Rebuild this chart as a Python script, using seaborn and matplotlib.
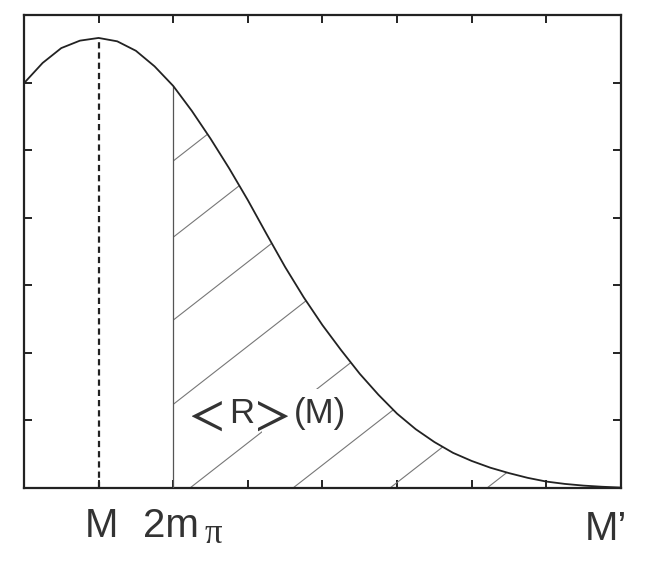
import matplotlib
matplotlib.use("Agg")
import matplotlib.pyplot as plt
from matplotlib.patches import Rectangle
from matplotlib.transforms import IdentityTransform
import numpy as np
import pandas as pd
import seaborn as sns

# ---- data ----
mass = [0.0, 0.25, 0.5, 0.75, 1.0, 1.25, 1.5, 1.75, 2.0, 2.25, 2.5, 2.75, 3.0,
        3.25, 3.5, 3.75, 4.0, 4.25, 4.5, 4.75, 5.0, 5.25, 5.5, 5.75, 6.0,
        6.25, 6.5, 6.75, 7.0, 7.25, 7.5, 7.75, 8.0]
rate = [5.99, 6.29, 6.51, 6.62, 6.66, 6.61, 6.47, 6.24, 5.95, 5.58, 5.17, 4.73,
        4.26, 3.76, 3.27, 2.82, 2.41, 2.04, 1.69, 1.38, 1.10, 0.87, 0.68, 0.52,
        0.40, 0.30, 0.22, 0.15, 0.095, 0.06, 0.035, 0.018, 0.006]
peak_mass = 1.0          # M
threshold_mass = 2.0     # 2 m_pi
x_ticks = [0, 1, 2, 3, 4, 5, 6, 7, 8]
y_ticks = [0, 1, 2, 3, 4, 5, 6, 7]
label_M = "M"
label_thr = "2m"
label_pi = "\u03c0"
label_Mp = "M\u2019"
area_label = [r"$<$", "R", r"$>$", "(M)"]

# ---- style constants ----
HATCH_X0 = [-3.62, -2.31, -0.885, 0.563, 2.225, 3.606, 4.906, 6.206]
HATCH_SLOPE = 0.861
TXT = "#333333"

sns.set_theme(style="ticks")
plt.rcParams["font.family"] = ["Liberation Sans", "DejaVu Sans"]

df = pd.DataFrame({"mass": mass, "rate": rate})

fig = plt.figure(figsize=(6.64, 5.69), dpi=100)
ax = fig.add_axes([0.0361, 0.1424, 0.899, 0.8313])

sns.lineplot(data=df, x="mass", y="rate", ax=ax, color="#222222", lw=1.3,
             zorder=5)

# hatched region above threshold
sub = df[df["mass"] >= threshold_mass]
poly = ax.fill_between(sub["mass"], 0, sub["rate"], facecolor="none",
                       edgecolor="none")
clip_path = poly.get_paths()[0]
for x0 in HATCH_X0:
    xs = np.array([x0, 8.0])
    ln, = ax.plot(xs, HATCH_SLOPE * (xs - x0), color="#777777", lw=0.8,
                  zorder=2)
    ln.set_clip_path(clip_path, ax.transData)

thr_rate = df.loc[df["mass"] == threshold_mass, "rate"].iloc[0]
peak_rate = df.loc[df["mass"] == peak_mass, "rate"].iloc[0]
ax.vlines(threshold_mass, 0, thr_rate, color="#555555", lw=0.9, zorder=3)
ax.vlines(peak_mass, 0, peak_rate, color="#222222", lw=1.6,
          linestyles=(0, (2.8, 1.8)), zorder=3)

ax.set_xlim(0, 8)
ax.set_ylim(0, 7)
ax.set_xticks(x_ticks)
ax.set_yticks(y_ticks)
ax.set_xlabel("")
ax.set_ylabel("")
ax.tick_params(direction="in", length=5.5, width=1.4, color="#222222",
               top=True, right=True, labelbottom=False, labelleft=False)
for s in ax.spines.values():
    s.set_linewidth(1.6)
    s.set_color("#222222")
    s.set_visible(True)

# axis labels under the ticks
kw = dict(xycoords=("data", "axes fraction"), textcoords="offset pixels",
          color=TXT, va="baseline")
ax.annotate(label_M, xy=(peak_mass, 0), xytext=(3, -49), ha="center",
            fontsize=29, **kw)
ax.annotate(label_thr, xy=(threshold_mass, 0), xytext=(-2.5, -49),
            ha="center", fontsize=29, **kw)
ax.annotate(label_pi, xy=(threshold_mass, 0), xytext=(31, -55), ha="left",
            fontsize=25, family="Liberation Serif", **kw)
ax.annotate(label_Mp, xy=(8, 0), xytext=(6, -52), ha="right", fontsize=29,
            annotation_clip=False, **kw)

# <R>(M) label inside the hatched area
kw2 = dict(xycoords="data", textcoords="offset pixels", color=TXT,
           va="baseline", ha="center", zorder=7)
t_lt = ax.annotate(area_label[0], xy=(threshold_mass, 0), xytext=(29, 58.5),
                   fontsize=38, math_fontfamily="stix", **kw2)
t_r = ax.annotate(area_label[1], xy=(threshold_mass, 0), xytext=(68.8, 65),
                  fontsize=25, **kw2)
t_gt = ax.annotate(area_label[2], xy=(threshold_mass, 0), xytext=(95.3, 58.5),
                   fontsize=38, math_fontfamily="stix", **kw2)
t_m = ax.annotate(area_label[3], xy=(threshold_mass, 0), xytext=(146.3, 65),
                  fontsize=25, **kw2)

# white backing behind ">(M)" that interrupts the hatching
fig.canvas.draw()
rend = fig.canvas.get_renderer()
bg = t_gt.get_window_extent(rend)
bm = t_m.get_window_extent(rend)
pad = 8
x_left = bg.x0 + 0.35 * bg.width
rect = Rectangle((x_left, bm.y0 - pad), bm.x1 - x_left,
                 bm.height + 2 * pad, transform=IdentityTransform(),
                 facecolor="white", edgecolor="none", zorder=4)
ax.add_artist(rect)

fig.savefig("out.png", dpi=100, facecolor="white")
